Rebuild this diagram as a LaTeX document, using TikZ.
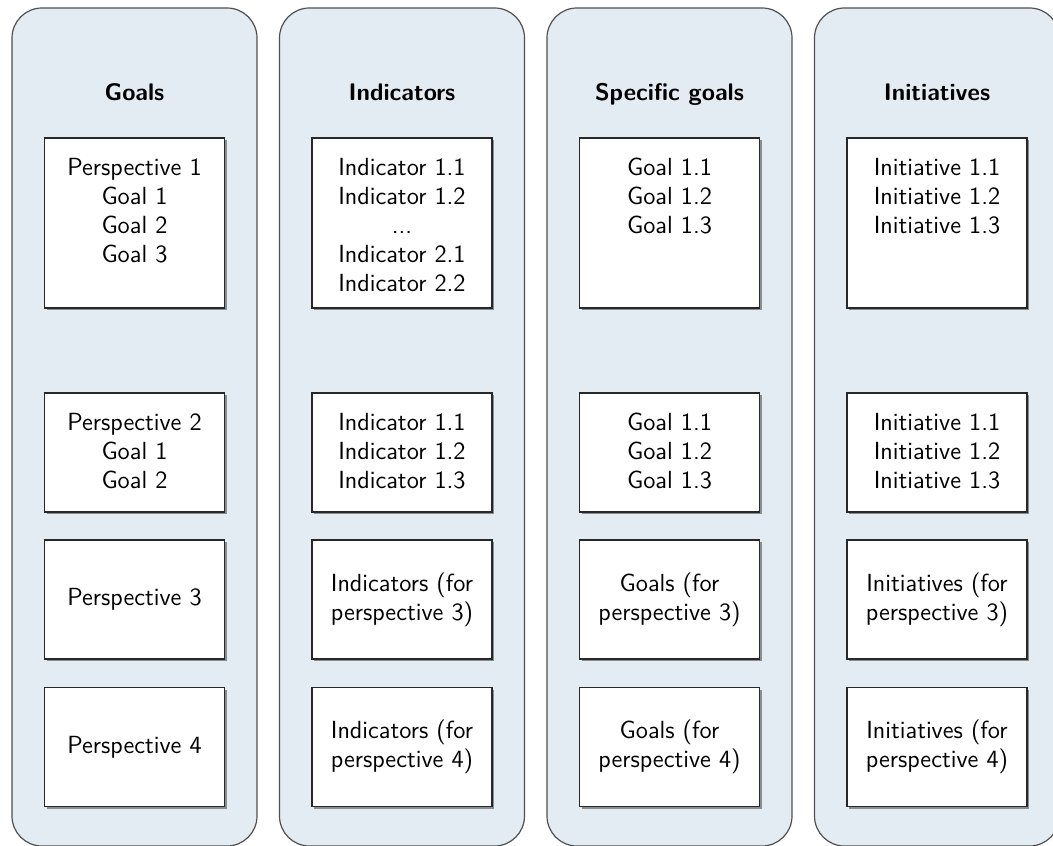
\documentclass[tikz,border=0pt]{standalone}
\usetikzlibrary{positioning,shadows}

\definecolor{lanefill}{RGB}{227,235,243}
\definecolor{laneline}{RGB}{80,80,80}
\definecolor{cellline}{RGB}{40,40,40}

\tikzset{
  lane/.style={draw=laneline, line width=0.6pt, fill=lanefill, rounded corners=15pt,
    minimum width=122.5pt, minimum height=419pt},
  head/.style={font=\sffamily\bfseries\fontsize{12}{14.5}\selectfont, anchor=base},
  cell/.style={draw=cellline, line width=0.7pt, fill=white, minimum width=90pt,
    drop shadow={shadow xshift=1pt, shadow yshift=-1pt, fill=black, opacity=0.4},
    font=\sffamily\fontsize{12.4}{14.5}\selectfont, align=center},
  tall/.style={cell, minimum height=85pt},
  short/.style={cell, minimum height=59.5pt},
  entry/.style={font=\sffamily\fontsize{12.4}{14.5}\selectfont, align=center},
}

\begin{document}
\begin{tikzpicture}[x=0.5pt, y=-0.5pt]
\useasboundingbox (0, 0) rectangle (1053, 845);
\clip (0, 0) rectangle (1053, 845);

\node[lane] (goalslane) at (134.5, 427) {};
\node[lane] (indlane) at (402, 427) {};
\node[lane] (speclane) at (669.5, 427) {};
\node[lane] (initlane) at (937, 427) {};

\node[head] (goalshead) at (134.5, 101) {Goals};
\node[head] (indhead) at (402, 101) {Indicators};
\node[head] (spechead) at (669.5, 101) {Specific goals};
\node[head] (inithead) at (937, 101) {Initiatives};

\node[tall] (goal1) at (134.5, 223) {};
\node[entry, below=7pt of goal1.north] (goal1txt) {Perspective 1\\Goal 1\\Goal 2\\Goal 3};
\node[short] (goal2) at (134.5, 452.5) {};
\node[entry, below=7pt of goal2.north] (goal2txt) {Perspective 2\\Goal 1\\Goal 2};
\node[short] (goal3) at (134.5, 599.5) {Perspective 3};
\node[short] (goal4) at (134.5, 747) {Perspective 4};

\node[tall] (ind1) at (402, 223) {};
\node[entry, below=7pt of ind1.north] (ind1txt) {Indicator 1.1\\Indicator 1.2\\...\\Indicator 2.1\\Indicator 2.2};
\node[short] (ind2) at (402, 452.5) {};
\node[entry, below=7pt of ind2.north] (ind2txt) {Indicator 1.1\\Indicator 1.2\\Indicator 1.3};
\node[short] (ind3) at (402, 599.5) {Indicators (for\\perspective 3)};
\node[short] (ind4) at (402, 747) {Indicators (for\\perspective 4)};

\node[tall] (spec1) at (669.5, 223) {};
\node[entry, below=7pt of spec1.north] (spec1txt) {Goal 1.1\\Goal 1.2\\Goal 1.3};
\node[short] (spec2) at (669.5, 452.5) {};
\node[entry, below=7pt of spec2.north] (spec2txt) {Goal 1.1\\Goal 1.2\\Goal 1.3};
\node[short] (spec3) at (669.5, 599.5) {Goals (for\\perspective 3)};
\node[short] (spec4) at (669.5, 747) {Goals (for\\perspective 4)};

\node[tall] (init1) at (937, 223) {};
\node[entry, below=7pt of init1.north] (init1txt) {Initiative 1.1\\Initiative 1.2\\Initiative 1.3};
\node[short] (init2) at (937, 452.5) {};
\node[entry, below=7pt of init2.north] (init2txt) {Initiative 1.1\\Initiative 1.2\\Initiative 1.3};
\node[short] (init3) at (937, 599.5) {Initiatives (for\\perspective 3)};
\node[short] (init4) at (937, 747) {Initiatives (for\\perspective 4)};

\end{tikzpicture}
\end{document}
